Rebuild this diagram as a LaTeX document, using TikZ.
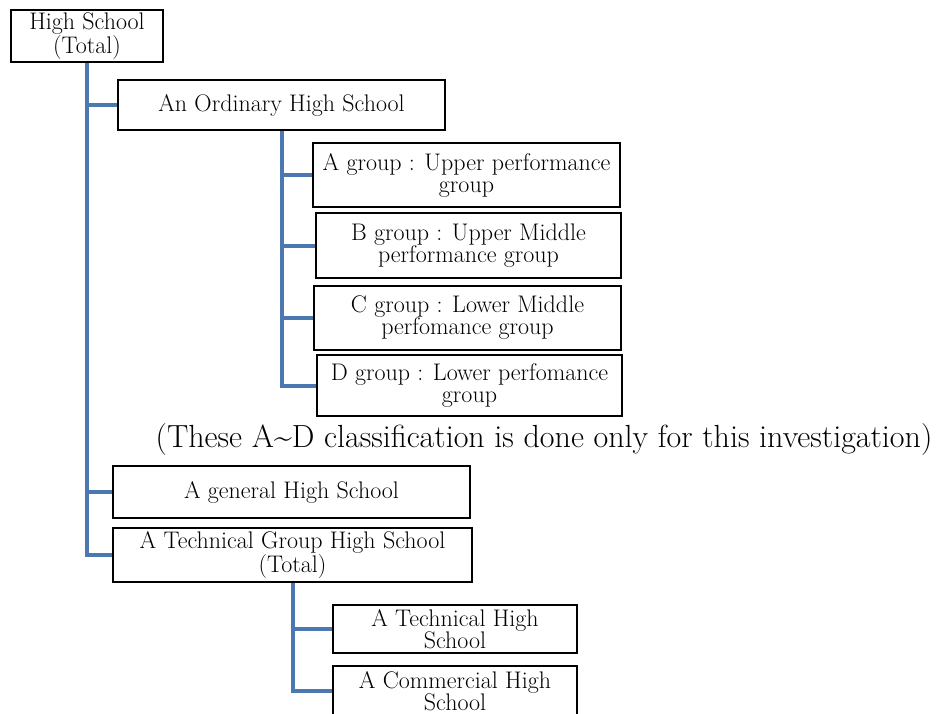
\documentclass[tikz,border=0pt]{standalone}
\usepackage{tikz}
\usetikzlibrary{positioning}
\definecolor{treeblue}{RGB}{76,120,178}
\tikzset{
  schoolbox/.style 2 args={draw,line width=1.5pt,align=center,inner sep=0pt,
    minimum width=#1*0.75pt,minimum height=#2*0.75pt,
    font=\fontsize{18}{16.5}\selectfont},
  link/.style={treeblue,line width=3pt},
}
\begin{document}
\begin{tikzpicture}[x=0.75pt,y=-0.75pt]
\useasboundingbox (0,0) rectangle (943,714);
% upper part
\node[schoolbox={152}{52}] (hs) at (87,36) {High School\\(Total)};
\node[schoolbox={327}{50}] (ord) at (281.5,105) {An Ordinary High School};
\node[schoolbox={307}{64}] (ga) at (466.5,175) {A group : Upper performance\\group};
\node[schoolbox={305}{65}] (gb) at (468.5,245.5) {B group : Upper Middle\\performance group};
\node[schoolbox={307}{64}] (gc) at (467.5,318) {C group : Lower Middle\\perfomance group};
\node[schoolbox={305}{61}] (gd) at (469.5,385.5) {D group : Lower perfomance\\group};
\node[font=\fontsize{24}{26}\selectfont] (note) at (544,440)
 {(These A\textasciitilde D classification is done only for this investigation)};
% lower part
\node[schoolbox={357}{52}] (gen) at (291.5,492) {A general High School};
\node[schoolbox={359}{54}] (tgrp) at (292.5,555) {A Technical Group High School\\(Total)};
\node[schoolbox={244}{48}] (tech) at (455,629) {A Technical High\\School};
\node[schoolbox={244}{50}] (comm) at (455,691) {A Commercial High\\School};
% connectors
\foreach \c in {ord,gen,tgrp} \draw[link] (hs.south) |- (\c.west);
\foreach \c in {ga,gb,gc,gd} \draw[link] (ord.south) |- (\c.west);
\foreach \c in {tech,comm} \draw[link] (tgrp.south) |- (\c.west);
\end{tikzpicture}
\end{document}
